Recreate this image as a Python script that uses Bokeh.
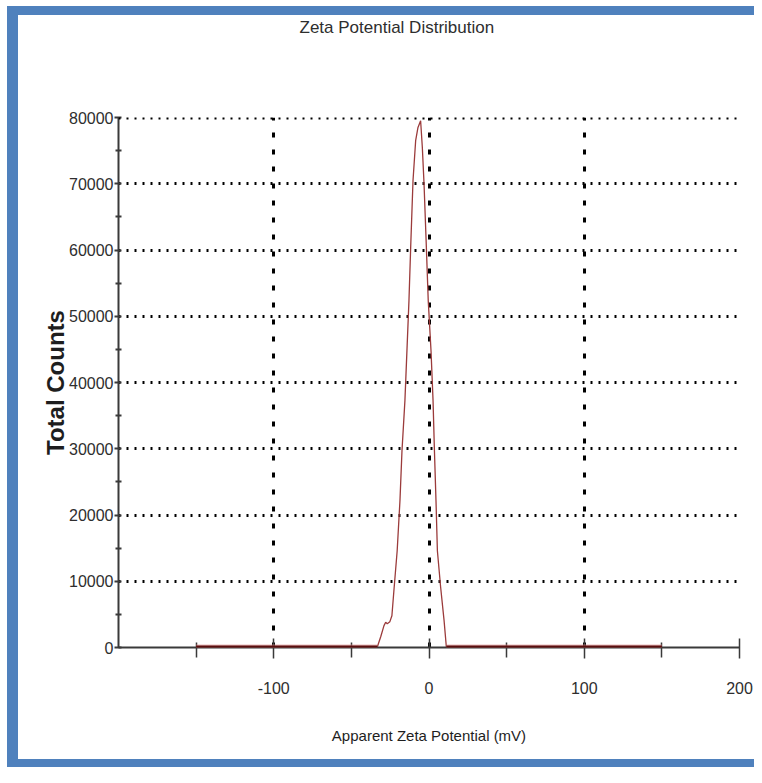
from bokeh.plotting import figure
from bokeh.models import (FixedTicker, Range1d, Span, Arrow, ColumnDataSource,
                          NumeralTickFormatter, Title)
from bokeh.embed import file_html
from bokeh.resources import INLINE

# ---------------- data ----------------
title_text = "Zeta Potential Distribution"
x_label = "Apparent Zeta Potential (mV)"
y_label = "Total Counts"

x_start, x_end = -200, 200
y_start, y_end = 0, 80000

x_ticks = [-100, 0, 100, 200]
x_minor = [-150, -50, 50, 150]
y_ticks = [0, 10000, 20000, 30000, 40000, 50000, 60000, 70000, 80000]
y_minor = [5000, 15000, 25000, 35000, 45000, 55000, 65000, 75000]

# distribution peak (mV, total counts)
zeta_mv = [-33.4, -31.0, -29.0, -27.9, -26.9, -25.2, -23.9, -22.6, -20.5, -18.7,
           -17.4, -15.5, -12.9, -11.8, -10.3, -8.6, -7.1, -5.4, -4.3, -3.2,
           -1.7, -0.5, 1.3, 2.6, 3.5, 4.5, 5.4, 7.5, 9.7, 11.2]
counts = [0, 1700, 3300, 3800, 3600, 3900, 4800, 8600, 14600, 22200,
          29700, 37300, 52400, 60400, 70500, 76500, 78500, 79500, 75500, 70000,
          60400, 52400, 44800, 37300, 29700, 22200, 14600, 9100, 4100, 0]

# zero-count stretches of the measured range
zero_x0 = [-150, 11.2]
zero_x1 = [-33.4, 150]
zero_y = [0, 0]

# ---------------- styling ----------------
FONT = "'Liberation Sans', Arial, sans-serif"
AXIS_COL = "#3a3a3a"
TEXT_COL = "#2e2e2e"
BLUE = "#4f81bd"

p = figure(width=754, height=767, output_backend="svg", toolbar_location=None,
           title=None,
           x_range=Range1d(x_start, x_end), y_range=Range1d(y_start, y_end),
           min_border_left=118, min_border_right=15,
           min_border_top=117, min_border_bottom=120)
p.border_fill_color = None
p.background_fill_color = "white"
p.outline_line_color = None
p.styles = {"background-color": "white",
            "box-shadow": (f"inset 7px 6px 0 0 white, "
                           f"inset 18px 15px 0 0 {BLUE}, "
                           f"inset 0 -8px 0 0 {BLUE}")}

# blank (white) spacer next to the frame, then the title at the top
p.add_layout(Title(text=".", text_color="white", text_font=FONT,
                   text_font_size="16px", standoff=64), "above")
p.add_layout(Title(text=title_text, align="left", vertical_align="top",
                   offset=181, standoff=2, text_font=FONT,
                   text_font_size="17px", text_font_style="normal",
                   text_color=TEXT_COL), "above")

# grids
p.ygrid.ticker = FixedTicker(ticks=y_ticks[1:])
p.ygrid.grid_line_color = "black"
p.ygrid.grid_line_width = 3
p.ygrid.grid_line_dash = "2 6"
p.xgrid.ticker = FixedTicker(ticks=x_ticks)
p.xgrid.grid_line_color = "black"
p.xgrid.grid_line_width = 3
p.xgrid.grid_line_dash = "5 12"

top_line = Span(location=y_end, dimension="width", line_color="black",
                line_width=4, line_dash="2 6")
p.add_layout(top_line)

# axes
xa = p.xaxis[0]
xa.ticker = FixedTicker(ticks=x_ticks, minor_ticks=x_minor)
xa.formatter = NumeralTickFormatter(format="0")
xa.axis_line_color = AXIS_COL
xa.axis_line_width = 2
xa.major_tick_line_color = AXIS_COL
xa.minor_tick_line_color = AXIS_COL
xa.major_tick_line_width = 1.5
xa.minor_tick_line_width = 1.5
xa.major_tick_in = 9
xa.major_tick_out = 11
xa.minor_tick_in = 5
xa.minor_tick_out = 10
xa.major_label_text_font = FONT
xa.major_label_text_font_size = "16px"
xa.major_label_text_color = TEXT_COL
xa.major_label_standoff = 23
xa.axis_label = x_label
xa.axis_label_text_font = FONT
xa.axis_label_text_font_size = "15px"
xa.axis_label_text_font_style = "normal"
xa.axis_label_text_color = "#1e1e1e"
xa.axis_label_standoff = 30

ya = p.yaxis[0]
ya.ticker = FixedTicker(ticks=y_ticks, minor_ticks=y_minor)
ya.formatter = NumeralTickFormatter(format="0")
ya.axis_line_color = AXIS_COL
ya.axis_line_width = 2
ya.major_tick_line_color = AXIS_COL
ya.minor_tick_line_color = AXIS_COL
ya.major_tick_line_width = 2
ya.minor_tick_line_width = 2
ya.major_tick_in = 3
ya.major_tick_out = 4
ya.minor_tick_in = 3
ya.minor_tick_out = 3
ya.major_label_text_font = FONT
ya.major_label_text_font_size = "16px"
ya.major_label_text_color = TEXT_COL
ya.major_label_standoff = 1
ya.axis_label = y_label
ya.axis_label_text_font = FONT
ya.axis_label_text_font_size = "24px"
ya.axis_label_text_font_style = "bold"
ya.axis_label_text_color = "#1e1e1e"
ya.axis_label_standoff = -3

# zero baseline stretches (drawn over the axis line)
zsrc = ColumnDataSource(dict(x0=zero_x0, x1=zero_x1, y=zero_y))
p.add_layout(Arrow(end=None, source=zsrc, x_start="x0", y_start="y",
                   x_end="x1", y_end="y", line_color="#e09090",
                   line_alpha=0.6, line_width=6))
p.add_layout(Arrow(end=None, source=zsrc, x_start="x0", y_start="y",
                   x_end="x1", y_end="y", line_color="#5a0e0e",
                   line_width=4))

# distribution curve
p.line(zeta_mv, counts, line_color="#9b3b3b", line_width=1.3)

open("out.html", "w").write(file_html(p, INLINE))
